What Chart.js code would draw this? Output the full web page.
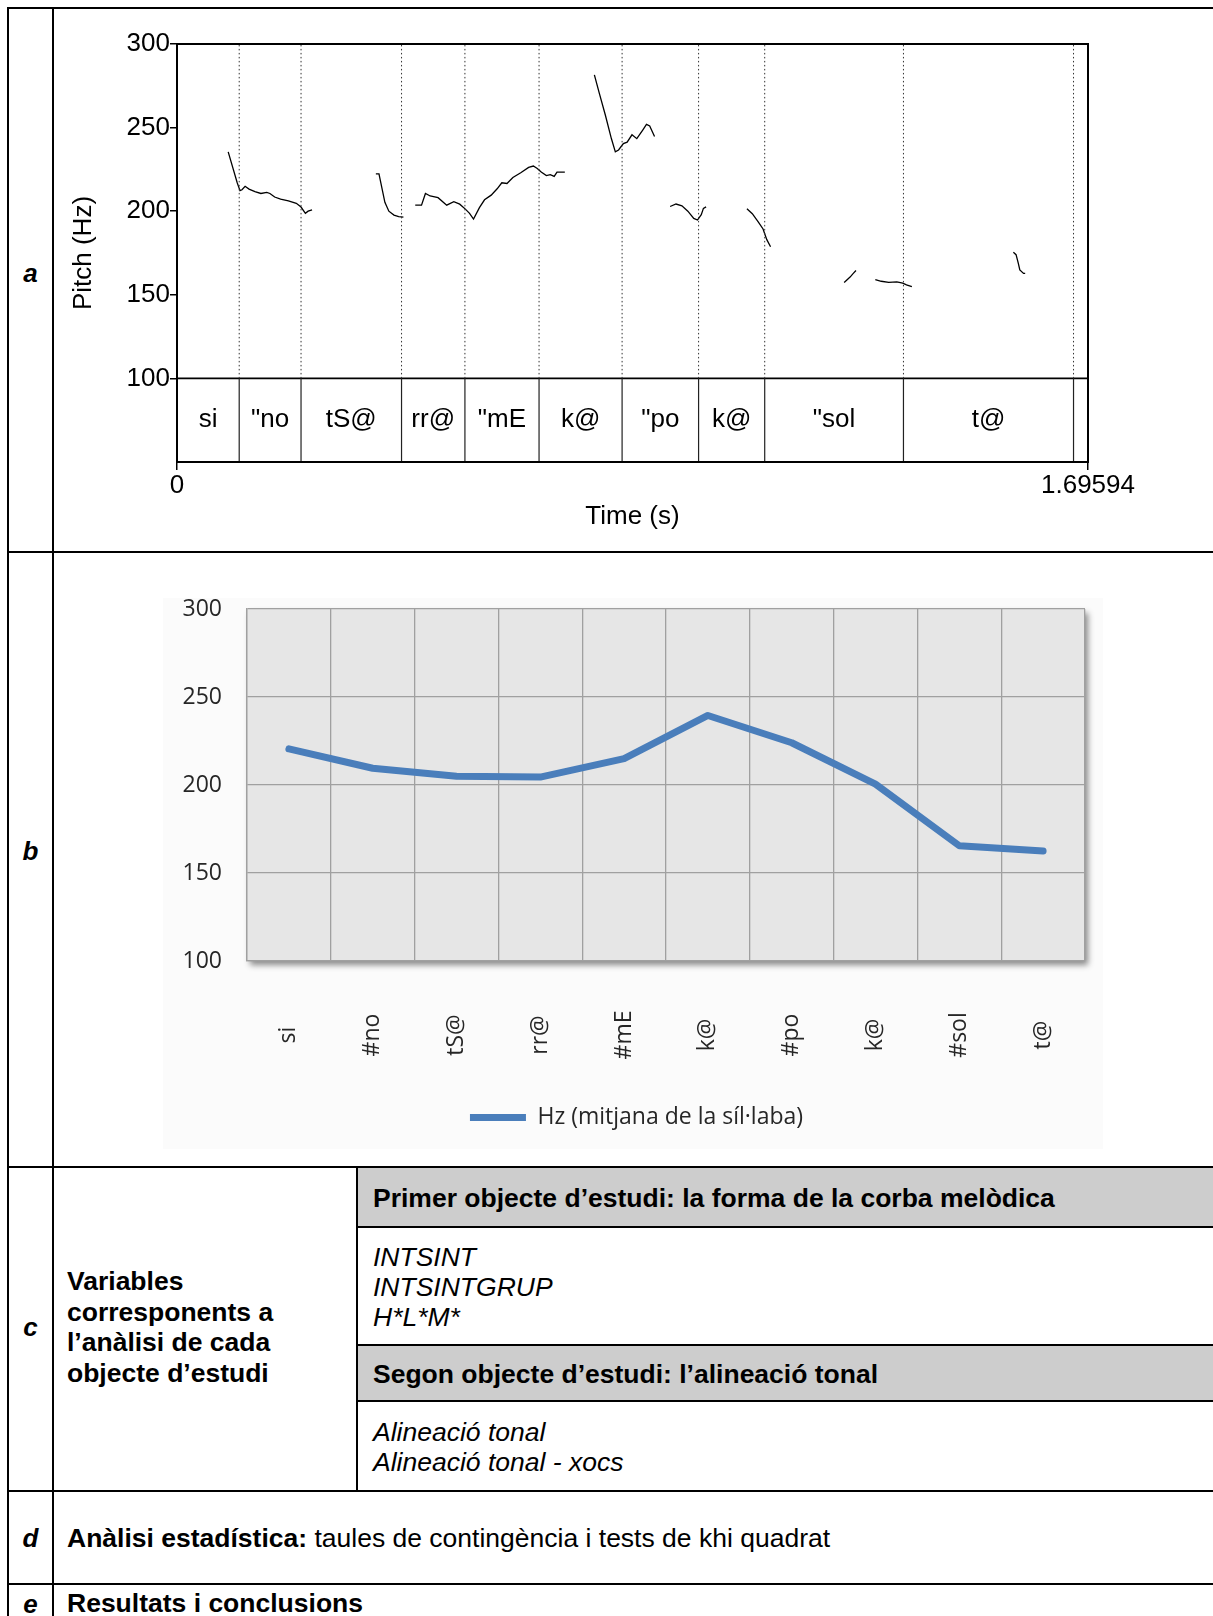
<!DOCTYPE html>
<html>
<head>
<meta charset="utf-8">
<script src="https://cdn.jsdelivr.net/npm/chart.js@4.4.1/dist/chart.umd.min.js"></script>
<style>
html, body { margin: 0; padding: 0; background: #fff; }
body { width: 1213px; height: 1616px; position: relative; overflow: hidden;
       font-family: "Liberation Sans", Arial, sans-serif; color: #000; }
.ln { position: absolute; background: #000; }
.fill { position: absolute; background: #cdcdcd; }
.t { position: absolute; white-space: nowrap; font-size: 26.5px; line-height: 30px; }
.b { font-weight: bold; }
.i { font-style: italic; }
.lab { position: absolute; left: 9px; width: 43px; text-align: center; font-weight: bold;
       font-style: italic; font-size: 26px; line-height: 30px; }
.chartbg { position: absolute; background: #fbfbfb; }
canvas { position: absolute; }
</style>
</head>
<body>

<!-- table rules -->
<div class="ln" style="left:7px;top:7px;width:2px;height:1609px"></div>
<div class="ln" style="left:7px;top:7px;width:1206px;height:2px"></div>
<div class="ln" style="left:52px;top:7px;width:2px;height:1609px"></div>
<div class="ln" style="left:7px;top:551px;width:1206px;height:2px"></div>
<div class="ln" style="left:7px;top:1166px;width:1206px;height:2px"></div>
<div class="ln" style="left:7px;top:1490px;width:1206px;height:2px"></div>
<div class="ln" style="left:7px;top:1583px;width:1206px;height:2px"></div>
<div class="fill" style="left:358px;top:1168px;width:855px;height:58px"></div>
<div class="fill" style="left:358px;top:1346px;width:855px;height:54px"></div>
<div class="ln" style="left:356px;top:1166px;width:2px;height:325px"></div>
<div class="ln" style="left:356px;top:1226px;width:857px;height:2px"></div>
<div class="ln" style="left:356px;top:1344px;width:857px;height:2px"></div>
<div class="ln" style="left:356px;top:1400px;width:857px;height:2px"></div>

<!-- row labels -->
<div class="lab" style="top:258px">a</div>
<div class="lab" style="top:836px">b</div>
<div class="lab" style="top:1312px">c</div>
<div class="lab" style="top:1523px">d</div>
<div class="lab" style="top:1589px">e</div>

<!-- row c -->
<div class="t b" style="left:67px;top:1266px;line-height:30.6px">Variables<br>corresponents a<br>l’anàlisi de cada<br>objecte d’estudi</div>
<div class="t b" style="left:373px;top:1183px">Primer objecte d’estudi: la forma de la corba melòdica</div>
<div class="t i" style="left:373px;top:1242px">INTSINT<br>INTSINTGRUP<br>H*L*M*</div>
<div class="t b" style="left:373px;top:1359px">Segon objecte d’estudi: l’alineació tonal</div>
<div class="t i" style="left:373px;top:1417px">Alineació tonal<br>Alineació tonal - xocs</div>

<!-- rows d, e -->
<div class="t" style="left:67px;top:1523px"><span class="b">Anàlisi estadística:</span> taules de contingència i tests de khi quadrat</div>
<div class="t b" style="left:67px;top:1588px">Resultats i conclusions</div>

<!-- charts -->
<canvas id="pitchTrack" width="1159" height="542" style="left:54px;top:10px"></canvas>
<div class="chartbg" style="left:163px;top:598px;width:940px;height:551px"></div>
<canvas id="syllableMeans" width="940" height="567" style="left:163px;top:582px"></canvas>

<script>
// ---- Pitch track (Praat) ----
const timeEnd = 1.69594;
const pitchTicks = [100, 150, 200, 250, 300];
const timeTicks = [0, 1.69594];
const tierBounds = [0.1158, 0.2309, 0.4180, 0.5360, 0.6740, 0.8286, 0.9710, 1.0941, 1.3524, 1.6690];
const tierLabels = ['si', '"no', 'tS@', 'rr@', '"mE', 'k@', '"po', 'k@', '"sol', 't@', ''];

// pitch contour samples; null marks an unvoiced gap
const pitchTime = [
  0.0953, 0.1121, 0.1173, 0.1210, 0.1268, 0.1341, 0.1451, 0.1561, 0.1671, 0.1730, 0.1818, 0.1928, 0.2074, 0.2221, 0.2309, 0.2390, 0.2441, 0.2514, null,
  0.3702, 0.3760, 0.3870, 0.3944, 0.4039, 0.4127, 0.4215, null,
  0.4435, 0.4552, 0.4625, 0.4713, 0.4860, 0.5021, 0.5153, 0.5263, 0.5373, 0.5446, 0.5520, 0.5630, 0.5725, 0.5849, 0.5960, 0.6047, 0.6143, 0.6253, 0.6399, 0.6546, 0.6634, 0.6707, 0.6780, 0.6876, 0.6949, 0.7022, 0.7074, 0.7220, null,
  0.7770, 0.7865, 0.7975, 0.8085, 0.8160, 0.8220, 0.8310, 0.8380, 0.8470, 0.8560, 0.8670, 0.8740, 0.8800, 0.8890, null,
  0.9180, 0.9290, 0.9400, 0.9510, 0.9620, 0.9690, 0.9760, 0.9800, 0.9850, null,
  1.0610, 1.0710, 1.0820, 1.0910, 1.0980, 1.1050, null,
  1.2420, 1.2530, 1.2590, 1.2640, null,
  1.3000, 1.3110, 1.3250, 1.3400, 1.3510, 1.3580, 1.3680, null,
  1.5570, 1.5620, 1.5660, 1.5690, 1.5760, 1.5790
];
const pitchHz = [
  235.5, 217.0, 212.3, 212.8, 214.9, 213.2, 211.7, 210.6, 211.3, 210.6, 208.5, 207.2, 206.2, 204.7, 202.5, 198.7, 200.0, 200.8, null,
  222.3, 222.3, 205.3, 200.0, 197.7, 196.8, 196.4, null,
  203.6, 203.6, 210.6, 209.1, 208.1, 203.6, 205.7, 204.2, 201.1, 198.7, 195.3, 202.1, 206.8, 209.6, 213.4, 217.0, 216.6, 220.2, 223.0, 226.2, 227.0, 225.5, 223.4, 221.3, 221.9, 220.8, 223.4, 223.4, null,
  281.5, 270.2, 257.4, 243.6, 235.5, 236.6, 240.4, 241.3, 245.7, 243.4, 248.5, 251.9, 251.0, 244.7, null,
  202.8, 204.3, 203.2, 200.0, 195.7, 194.7, 197.9, 201.7, 202.6, null,
  201.5, 198.5, 193.6, 189.4, 183.0, 178.7, null,
  157.4, 160.6, 162.8, 164.5, null,
  159.1, 158.1, 157.4, 157.7, 157.0, 155.9, 154.9, null,
  175.5, 174.0, 169.1, 164.9, 162.8, 162.8
];

// ---- Mean pitch per syllable (Excel-style line) ----
const syllables = ['si', '#no', 'tS@', 'rr@', '#mE', 'k@', '#po', 'k@', '#sol', 't@'];
const meanHz = [220.5, 209.5, 205, 204.5, 215, 239.5, 224, 200.5, 165.5, 162.5];
const meanLabel = 'Hz (mitjana de la síl·laba)';

const ARIAL = '"Liberation Sans", Arial, sans-serif';
const SANS = '"Open Sans", sans-serif';

// contour points, gaps keep the previous x so the line breaks
let lastT = 0;
const contourPoints = pitchTime.map((t, i) => {
  if (t === null || pitchHz[i] === null) return { x: lastT, y: null };
  lastT = t;
  return { x: t, y: pitchHz[i] };
});

const TIER_FLOOR = 50;   // bottom of the interval tier (pitch units)
const TIER_TOP = 100;    // boundary between tier and pitch area
const PITCH_TOP = 300;

const tierSolid = [];
const tierDotted = [];
tierBounds.forEach(b => {
  tierSolid.push({ x: b, y: TIER_FLOOR }, { x: b, y: TIER_TOP }, { x: b, y: null });
  tierDotted.push({ x: b, y: TIER_TOP }, { x: b, y: PITCH_TOP }, { x: b, y: null });
});

const praatFrame = {
  id: 'praatFrame',
  afterDatasetsDraw(chart) {
    const { ctx, chartArea: a, scales: { x, y } } = chart;
    ctx.save();
    ctx.strokeStyle = '#000';
    ctx.lineWidth = 2;
    ctx.strokeRect(a.left, a.top, a.right - a.left, a.bottom - a.top);
    ctx.font = '26px ' + ARIAL;
    ctx.fillStyle = '#000';
    ctx.textAlign = 'center';
    ctx.textBaseline = 'middle';
    const edges = [0, ...tierBounds, timeEnd];
    const yc = y.getPixelForValue((TIER_FLOOR + TIER_TOP) / 2);
    tierLabels.forEach((s, i) => {
      const xc = (x.getPixelForValue(edges[i]) + x.getPixelForValue(edges[i + 1])) / 2;
      ctx.fillText(s, xc, yc);
    });
    ctx.restore();
  }
};

new Chart(document.getElementById('pitchTrack'), {
  type: 'line',
  data: {
    datasets: [
      { data: tierSolid, borderColor: '#222', borderWidth: 1.2, pointRadius: 0, spanGaps: false },
      { data: tierDotted, borderColor: '#333', borderWidth: 1, borderDash: [1.5, 2.5], pointRadius: 0, spanGaps: false },
      { data: [{ x: 0, y: TIER_TOP }, { x: timeEnd, y: TIER_TOP }], borderColor: '#000', borderWidth: 1.6, pointRadius: 0 },
      { data: contourPoints, borderColor: '#000', borderWidth: 1.3, pointRadius: 0, spanGaps: false, tension: 0 }
    ]
  },
  options: {
    responsive: false,
    animation: false,
    devicePixelRatio: 1,
    layout: { padding: { top: 34, right: 125, bottom: 0, left: 0 } },
    plugins: { legend: { display: false }, tooltip: { enabled: false } },
    scales: {
      x: {
        type: 'linear', min: 0, max: timeEnd,
        afterBuildTicks: s => { s.ticks = timeTicks.map(v => ({ value: v })); },
        afterFit: s => { s.height = 90; },
        ticks: { callback: v => String(v), font: { family: ARIAL, size: 26 }, color: '#000', padding: 0, maxRotation: 0 },
        grid: { drawOnChartArea: false, drawTicks: true, tickLength: 8, color: '#000', lineWidth: 1.5 },
        border: { display: true, color: '#000', width: 2 },
        title: { display: true, text: 'Time (s)', font: { family: ARIAL, size: 26 }, color: '#000', padding: { top: 0, bottom: 20 } }
      },
      y: {
        type: 'linear', min: TIER_FLOOR, max: PITCH_TOP,
        afterBuildTicks: s => { s.ticks = pitchTicks.map(v => ({ value: v })); },
        afterFit: s => { s.width = 123; },
        ticks: { font: { family: ARIAL, size: 26 }, color: '#000', padding: 0 },
        grid: { drawOnChartArea: false, drawTicks: true, tickLength: 7, color: '#000', lineWidth: 1.5 },
        border: { display: true, color: '#000', width: 2 },
        title: { display: true, text: 'Pitch (Hz)', font: { family: ARIAL, size: 26 }, color: '#000', padding: { top: 14, bottom: 0 } }
      }
    }
  },
  plugins: [praatFrame]
});

// ---- Chart b ----
const GRID = '#a0a0a0';
const excelPlot = {
  id: 'excelPlot',
  afterLayout(chart) {
    // legend sits slightly right of centre
    if (chart.legend) { chart.legend.left += 12.5; chart.legend.right += 12.5; }
  },
  beforeDraw(chart) {
    const { ctx, chartArea: a } = chart;
    ctx.save();
    ctx.shadowColor = 'rgba(0,0,0,0.45)';
    ctx.shadowBlur = 6;
    ctx.shadowOffsetX = 3;
    ctx.shadowOffsetY = 4;
    ctx.fillStyle = '#e6e6e6';
    ctx.fillRect(a.left, a.top, a.right - a.left, a.bottom - a.top);
    ctx.restore();
  },
  afterDraw(chart) {
    const { ctx, chartArea: a, scales: { x } } = chart;
    ctx.save();
    ctx.font = '23px ' + SANS;
    ctx.fillStyle = '#262626';
    ctx.textAlign = 'center';
    ctx.textBaseline = 'middle';
    syllables.forEach((s, i) => {
      ctx.save();
      ctx.translate(x.getPixelForValue(i), a.bottom + 74);
      ctx.rotate(-Math.PI / 2);
      ctx.fillText(s, 0, 0);
      ctx.restore();
    });
    ctx.restore();
  }
};

new Chart(document.getElementById('syllableMeans'), {
  type: 'line',
  data: {
    labels: syllables,
    datasets: [{
      label: meanLabel,
      data: meanHz,
      borderColor: '#4a7ebb',
      backgroundColor: '#4a7ebb',
      borderWidth: 7,
      borderCapStyle: 'round',
      borderJoinStyle: 'round',
      pointRadius: 0,
      tension: 0,
      clip: false
    }]
  },
  options: {
    responsive: false,
    animation: false,
    devicePixelRatio: 1,
    layout: { padding: { top: 27, right: 18, bottom: 10, left: 0 } },
    plugins: {
      tooltip: { enabled: false },
      legend: {
        display: true,
        position: 'bottom',
        labels: {
          usePointStyle: true, pointStyle: 'line', pointStyleWidth: 56,
          font: { family: SANS, size: 23 }, color: '#262626', padding: 10
        }
      }
    },
    scales: {
      x: {
        type: 'category', offset: true,
        afterFit: s => { s.height = 135; },
        ticks: { display: false },
        grid: { offset: true, color: GRID, lineWidth: 1.3, drawTicks: false },
        border: { display: true, color: GRID, width: 1.3 }
      },
      y: {
        min: 100, max: 300,
        afterFit: s => { s.width = 84; },
        ticks: { stepSize: 50, font: { family: SANS, size: 23 }, color: '#262626', padding: 0 },
        grid: { color: GRID, lineWidth: 1.3, drawTicks: true, tickLength: 25, tickColor: 'rgba(0,0,0,0)' },
        border: { display: true, color: GRID, width: 1.3 }
      }
    }
  },
  plugins: [excelPlot]
});
</script>
</body>
</html>
